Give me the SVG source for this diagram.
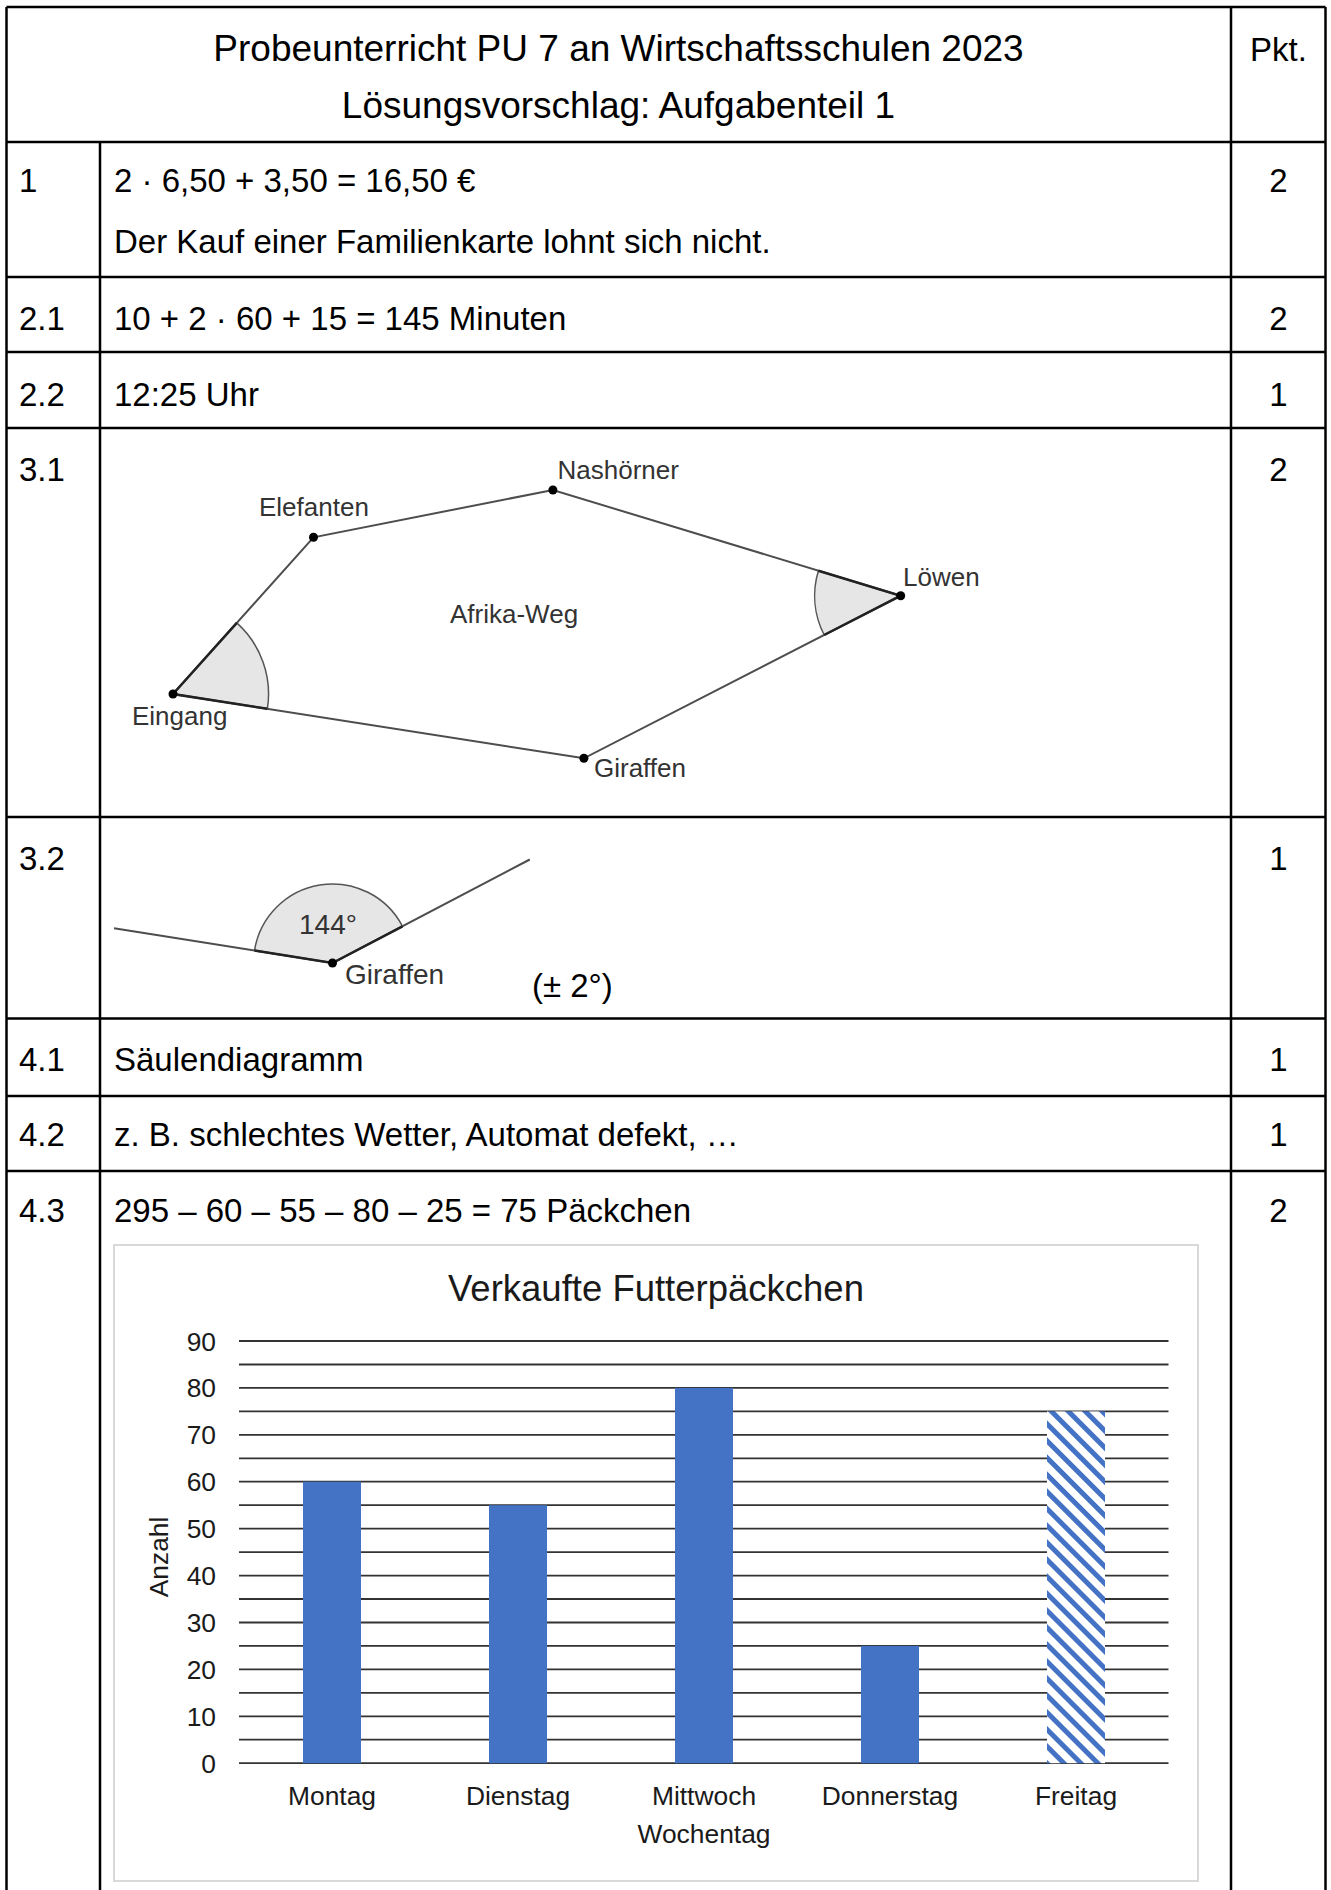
<svg xmlns="http://www.w3.org/2000/svg" width="1331" height="1890" viewBox="0 0 1331 1890">
<defs>
<style>
text{font-family:"Liberation Sans",Arial,sans-serif;fill:#000}
.b{font-size:33px}
.t{font-size:37px}
.c{text-anchor:middle}
.r{text-anchor:end}
.tl{stroke:#000;stroke-width:2.5;fill:none}
.geo{stroke:#4d4d4d;stroke-width:2;fill:none}
.leg{stroke:#222;stroke-width:2.5;fill:none}
.arc{stroke:#555;stroke-width:1.5;fill:none}
.sec{fill:#e6e6e6;stroke:none}
.dot{fill:#000}
.gl{font-size:26px;fill:#333}
.gl2{font-size:28px;fill:#333}
.ax{font-size:26.4px;fill:#1a1a1a}
.grid{stroke:#333;stroke-width:1.8}
.bar{fill:#4472C4}
</style>
<pattern id="hatch" width="12" height="12" patternUnits="userSpaceOnUse" patternTransform="rotate(45)">
<rect width="12" height="12" fill="#fff"/>
<rect width="12" height="5" fill="#4472C4"/>
</pattern>
</defs>
<rect width="1331" height="1890" fill="#fff"/>

<g id="table-lines">
<line class="tl" x1="6.5" y1="7" x2="1325.5" y2="7"/>
<line class="tl" x1="6.5" y1="7" x2="6.5" y2="1890"/>
<line class="tl" x1="1325.5" y1="7" x2="1325.5" y2="1890"/>
<line class="tl" x1="1231" y1="7" x2="1231" y2="1890"/>
<line class="tl" x1="100" y1="142" x2="100" y2="1890"/>
<line class="tl" x1="6.5" y1="142" x2="1325.5" y2="142"/>
<line class="tl" x1="6.5" y1="277" x2="1325.5" y2="277"/>
<line class="tl" x1="6.5" y1="352" x2="1325.5" y2="352"/>
<line class="tl" x1="6.5" y1="428" x2="1325.5" y2="428"/>
<line class="tl" x1="6.5" y1="817" x2="1325.5" y2="817"/>
<line class="tl" x1="6.5" y1="1018.5" x2="1325.5" y2="1018.5"/>
<line class="tl" x1="6.5" y1="1096" x2="1325.5" y2="1096"/>
<line class="tl" x1="6.5" y1="1171" x2="1325.5" y2="1171"/>
</g>

<g id="header">
<text class="t c" x="618.5" y="61">Probeunterricht PU 7 an Wirtschaftsschulen 2023</text>
<text class="t c" x="618.5" y="118">Lösungsvorschlag: Aufgabenteil 1</text>
<text class="b c" x="1278.5" y="61">Pkt.</text>
</g>

<g id="row-1">
<text class="b" x="19" y="192">1</text>
<text class="b" x="114" y="192">2 · 6,50 + 3,50 = 16,50 €</text>
<text class="b" x="114" y="253">Der Kauf einer Familienkarte lohnt sich nicht.</text>
<text class="b c" x="1278.5" y="192">2</text>
</g>

<g id="row-2-1">
<text class="b" x="19" y="330">2.1</text>
<text class="b" x="114" y="330">10 + 2 · 60 + 15 = 145 Minuten</text>
<text class="b c" x="1278.5" y="330">2</text>
</g>

<g id="row-2-2">
<text class="b" x="19" y="406">2.2</text>
<text class="b" x="114" y="406">12:25 Uhr</text>
<text class="b c" x="1278.5" y="406">1</text>
</g>

<g id="row-3-1">
<text class="b" x="19" y="481">3.1</text>
<text class="b c" x="1278.5" y="481">2</text>
<path class="sec" d="M173,694 L236.8,622.9 A95.5,95.5 0 0 1 267.4,708.8 Z"/>
<path class="sec" d="M900.7,595.7 L818.4,570.7 A86,86 0 0 0 824.2,635 Z"/>
<path class="geo" d="M173,694 L313.5,537.3 L552.9,490 L900.7,595.7 L583.9,758.3 Z"/>
<path class="arc" d="M236.8,622.9 A95.5,95.5 0 0 1 267.4,708.8"/>
<path class="arc" d="M818.4,570.7 A86,86 0 0 0 824.2,635"/>
<path class="leg" d="M236.8,622.9 L173,694 L267.4,708.8"/>
<path class="leg" d="M818.4,570.7 L900.7,595.7 L824.2,635"/>
<circle class="dot" cx="173" cy="694" r="4.5"/>
<circle class="dot" cx="313.5" cy="537.3" r="4.5"/>
<circle class="dot" cx="552.9" cy="490" r="4.5"/>
<circle class="dot" cx="900.7" cy="595.7" r="4.5"/>
<circle class="dot" cx="583.9" cy="758.3" r="4.5"/>
<text class="gl" x="557.5" y="479">Nashörner</text>
<text class="gl" x="259" y="516">Elefanten</text>
<text class="gl" x="903" y="586">Löwen</text>
<text class="gl" x="450" y="623">Afrika-Weg</text>
<text class="gl" x="132" y="725">Eingang</text>
<text class="gl" x="594" y="777">Giraffen</text>
</g>

<g id="row-3-2">
<text class="b" x="19" y="870">3.2</text>
<text class="b c" x="1278.5" y="870">1</text>
<path class="sec" d="M332.5,963 L254.5,950.6 A79,79 0 0 1 402.5,926.3 Z"/>
<path class="geo" d="M114,928.3 L332.5,963 L529.8,859.5"/>
<path class="arc" d="M254.5,950.6 A79,79 0 0 1 402.5,926.3"/>
<path class="leg" d="M254.5,950.6 L332.5,963 L402.5,926.3"/>
<circle class="dot" cx="332.5" cy="963" r="4.5"/>
<text class="gl2" x="299" y="934">144°</text>
<text class="gl2" x="345" y="984">Giraffen</text>
<text class="b" x="532" y="997">(± 2°)</text>
</g>

<g id="row-4-1">
<text class="b" x="19" y="1071">4.1</text>
<text class="b" x="114" y="1071">Säulendiagramm</text>
<text class="b c" x="1278.5" y="1071">1</text>
</g>

<g id="row-4-2">
<text class="b" x="19" y="1146">4.2</text>
<text class="b" x="114" y="1146">z. B. schlechtes Wetter, Automat defekt, …</text>
<text class="b c" x="1278.5" y="1146">1</text>
</g>

<g id="row-4-3">
<text class="b" x="19" y="1222">4.3</text>
<text class="b" x="114" y="1222">295 – 60 – 55 – 80 – 25 = 75 Päckchen</text>
<text class="b c" x="1278.5" y="1222">2</text>
</g>

<g id="chart">
<rect x="114" y="1245" width="1084" height="636" fill="#fff" stroke="#d9d9d9" stroke-width="2"/>
<text class="c" x="656" y="1301" style="font-size:36.5px;fill:#1a1a1a">Verkaufte Futterpäckchen</text>
<g id="gridlines">
<line class="grid" x1="239" y1="1763.2" x2="1168.5" y2="1763.2"/>
<line class="grid" x1="239" y1="1739.7" x2="1168.5" y2="1739.7"/>
<line class="grid" x1="239" y1="1716.3" x2="1168.5" y2="1716.3"/>
<line class="grid" x1="239" y1="1692.8" x2="1168.5" y2="1692.8"/>
<line class="grid" x1="239" y1="1669.4" x2="1168.5" y2="1669.4"/>
<line class="grid" x1="239" y1="1645.9" x2="1168.5" y2="1645.9"/>
<line class="grid" x1="239" y1="1622.5" x2="1168.5" y2="1622.5"/>
<line class="grid" x1="239" y1="1599" x2="1168.5" y2="1599"/>
<line class="grid" x1="239" y1="1575.6" x2="1168.5" y2="1575.6"/>
<line class="grid" x1="239" y1="1552.1" x2="1168.5" y2="1552.1"/>
<line class="grid" x1="239" y1="1528.7" x2="1168.5" y2="1528.7"/>
<line class="grid" x1="239" y1="1505.2" x2="1168.5" y2="1505.2"/>
<line class="grid" x1="239" y1="1481.7" x2="1168.5" y2="1481.7"/>
<line class="grid" x1="239" y1="1458.3" x2="1168.5" y2="1458.3"/>
<line class="grid" x1="239" y1="1434.8" x2="1168.5" y2="1434.8"/>
<line class="grid" x1="239" y1="1411.4" x2="1168.5" y2="1411.4"/>
<line class="grid" x1="239" y1="1387.9" x2="1168.5" y2="1387.9"/>
<line class="grid" x1="239" y1="1364.5" x2="1168.5" y2="1364.5"/>
<line class="grid" x1="239" y1="1341" x2="1168.5" y2="1341"/>
</g>
<g id="y-labels">
<text class="ax r" x="216" y="1772.7">0</text>
<text class="ax r" x="216" y="1725.8">10</text>
<text class="ax r" x="216" y="1678.9">20</text>
<text class="ax r" x="216" y="1632">30</text>
<text class="ax r" x="216" y="1585.1">40</text>
<text class="ax r" x="216" y="1538.2">50</text>
<text class="ax r" x="216" y="1491.2">60</text>
<text class="ax r" x="216" y="1444.3">70</text>
<text class="ax r" x="216" y="1397.4">80</text>
<text class="ax r" x="216" y="1350.5">90</text>
</g>
<g id="bars">
<rect class="bar" x="303" y="1481.7" width="58" height="281.5"/>
<rect class="bar" x="489" y="1505.2" width="58" height="258"/>
<rect class="bar" x="675" y="1387.9" width="58" height="375.3"/>
<rect class="bar" x="861" y="1645.9" width="58" height="117.3"/>
<rect x="1047" y="1411.4" width="58" height="351.8" fill="url(#hatch)"/>
</g>
<g id="x-labels">
<text class="ax c" x="332" y="1805">Montag</text>
<text class="ax c" x="518" y="1805">Dienstag</text>
<text class="ax c" x="704" y="1805">Mittwoch</text>
<text class="ax c" x="890" y="1805">Donnerstag</text>
<text class="ax c" x="1076" y="1805">Freitag</text>
<text class="ax c" x="704" y="1843">Wochentag</text>
</g>
<text class="ax c" transform="translate(167.5,1557) rotate(-90)" x="0" y="0">Anzahl</text>
</g>
</svg>
